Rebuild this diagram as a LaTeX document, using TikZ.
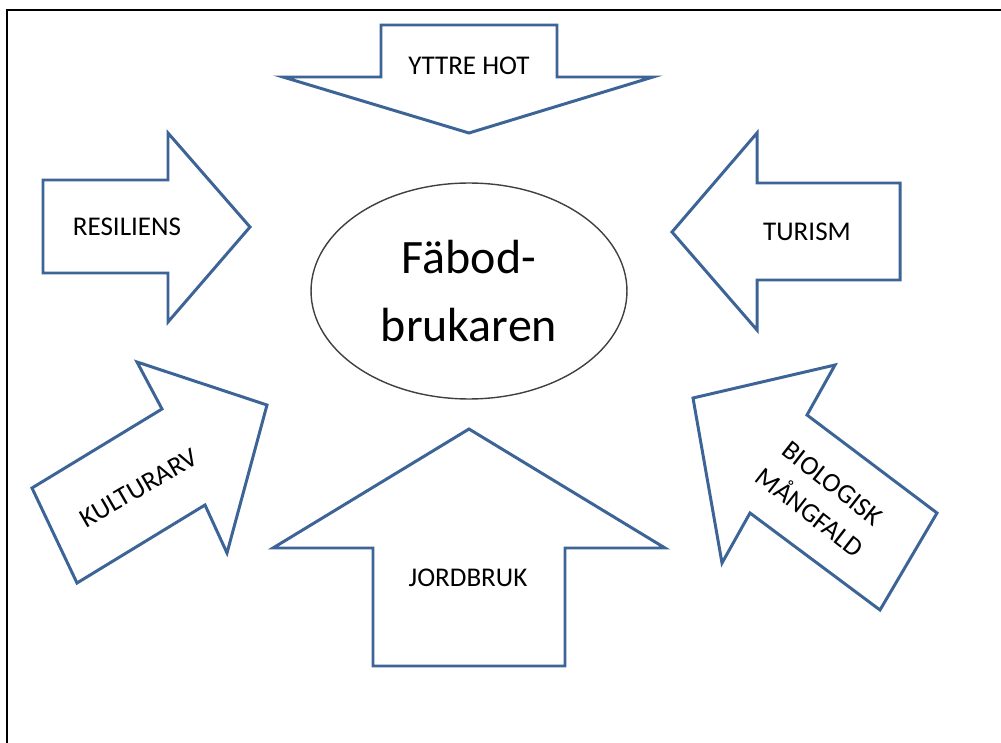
\documentclass[tikz,border=0pt]{standalone}
\usepackage{fontspec}
\setmainfont{Carlito}
\usetikzlibrary{shapes.geometric}
\definecolor{pilbla}{RGB}{60,100,150}
\begin{document}
\begin{tikzpicture}[x=0.02cm,y=-0.02cm,
		pil/.style={draw=pilbla,line width=1.7pt,line join=miter,fill=white},
		etikett/.style={font=\fontsize{15.4}{21}\selectfont,inner sep=0pt,align=center}]
			\useasboundingbox (0,0) rectangle (1001,743);
			\draw[line width=1.7pt] (7,743) -- (7,10) -- (1001,10);
			\draw[pil] (381,25) -- (557,25) -- (557,77) -- (653,77) -- (469,133) -- (283,77) -- (381,77) -- cycle;
			\draw[pil] (43,180) -- (168,180) -- (168,133) -- (250,227) -- (168,322) -- (168,273) -- (43,273) -- cycle;
			\draw[pil] (900,183) -- (757,183) -- (757,133) -- (672,232) -- (757,330) -- (757,280) -- (900,280) -- cycle;
			\draw[pil] (373,666) -- (373,548) -- (273,548) -- (469,429) -- (665,548) -- (565,548) -- (565,666) -- cycle;
			\draw[pil] (77,583) -- (32,488) -- (162,409) -- (137,362) -- (267,405) -- (227,553) -- (205,505) -- cycle;
			\draw[pil] (880,610) -- (937,513) -- (807,415) -- (835,365) -- (693,398) -- (722,563) -- (750,513) -- cycle;
			\node[etikett] (hot) at (469,66) {YTTRE HOT};
			\node[etikett] (resiliens) at (127,227) {RESILIENS};
			\node[etikett] (turism) at (807,232) {TURISM};
			\node[etikett] (jordbruk) at (468,578) {JORDBRUK};
			\node[etikett,rotate=30] (kulturarv) at (139,488) {KULTURARV};
			\node[etikett,rotate=-38] (mangfald) at (821,498) {BIOLOGISK\\MÅNGFALD};
			\node[ellipse,draw=black!75,line width=0.8pt,minimum width=6.32cm,minimum height=4.32cm,inner sep=0pt,align=center,font=\fontsize{27.3}{38.7}\selectfont] (brukare) at (469,291) {Fäbod-\\brukaren};
		\end{tikzpicture}
\end{document}
